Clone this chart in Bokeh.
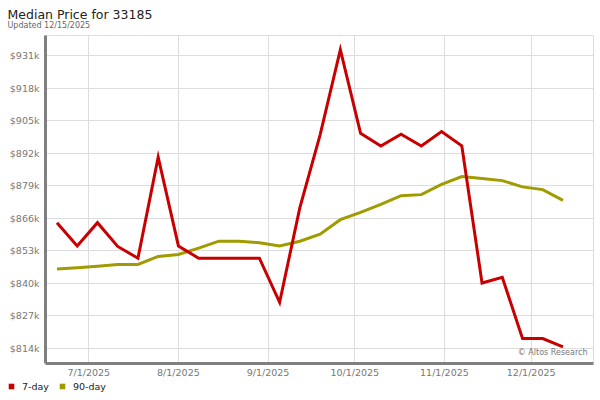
import pandas as pd
from bokeh.plotting import figure
from bokeh.models import (Range1d, FixedTicker, PrintfTickFormatter, Label, Title,
                          Legend, LegendItem, ColumnDataSource)
from bokeh.embed import file_html
from bokeh.resources import INLINE

# ---------------- data ----------------
title_text = "Median Price for 33185"
subtitle_text = "Updated 12/15/2025"
credit_text = "\u00a9 Altos Research"

dates = ["2025-06-20", "2025-06-27", "2025-07-04", "2025-07-11", "2025-07-18",
         "2025-07-25", "2025-08-01", "2025-08-08", "2025-08-15", "2025-08-22",
         "2025-08-29", "2025-09-05", "2025-09-12", "2025-09-19", "2025-09-26",
         "2025-10-03", "2025-10-10", "2025-10-17", "2025-10-24", "2025-10-31",
         "2025-11-07", "2025-11-14", "2025-11-21", "2025-11-28", "2025-12-05",
         "2025-12-12"]

# median price, thousands of dollars
seven_day = [864.2, 854.9, 864.2, 854.7, 850.0, 890.4, 854.9, 850.0, 850.0, 850.0,
             850.0, 832.4, 870.2, 899.3, 933.3, 899.9, 894.8, 899.5, 894.8, 900.6,
             894.9, 840.1, 842.4, 817.9, 817.9, 814.6]
ninety_day = [845.7, 846.2, 846.8, 847.5, 847.5, 850.7, 851.5, 854.0, 856.8, 856.8,
              856.2, 854.9, 856.8, 859.6, 865.4, 868.3, 871.5, 875.0, 875.4, 879.5,
              882.6, 881.8, 881.0, 878.5, 877.4, 873.1]

series_names = ["7-day", "90-day"]
series_colors = ["#c80000", "#a09b00"]

x_tick_dates = ["2025-07-01", "2025-08-01", "2025-09-01", "2025-10-01",
                "2025-11-01", "2025-12-01"]
x_tick_labels = ["7/1/2025", "8/1/2025", "9/1/2025", "10/1/2025",
                 "11/1/2025", "12/1/2025"]
y_ticks = [814, 827, 840, 853, 866, 879, 892, 905, 918, 931]

# ---------------- build ----------------
base = pd.Timestamp("2025-06-01")


def day_num(s):
    return int((pd.Timestamp(s) - base).days)


x_vals = [day_num(d) for d in dates]
x_ticks = [day_num(d) for d in x_tick_dates]

src = ColumnDataSource(data=dict(x=x_vals, seven=seven_day, ninety=ninety_day))

FONT = "DejaVu Sans"
GRAY_AXIS = "#808080"
LABEL_COLOR = "#777777"

p = figure(width=600, height=380, output_backend="svg", toolbar_location=None,
           x_range=Range1d(15.03, 204.55), y_range=Range1d(807.93, 938.98),
           min_border_left=45, min_border_right=7, min_border_top=35,
           min_border_bottom=15, title=None)
p.background_fill_color = "white"
p.border_fill_color = "white"
p.outline_line_color = "#dddddd"
p.outline_line_width = 1

p.xaxis.ticker = FixedTicker(ticks=x_ticks)
p.xaxis.major_label_overrides = {t: l for t, l in zip(x_ticks, x_tick_labels)}
p.yaxis.ticker = FixedTicker(ticks=y_ticks)
p.yaxis.formatter = PrintfTickFormatter(format="$%dk")

for ax in (p.xaxis, p.yaxis):
    ax.axis_line_color = GRAY_AXIS
    ax.axis_line_width = 3
    ax.major_tick_line_color = None
    ax.minor_tick_line_color = None
    ax.major_tick_out = 0
    ax.major_tick_in = 0
    ax.major_label_text_font = FONT
    ax.major_label_text_font_size = "9.5px"
    ax.major_label_text_color = LABEL_COLOR
p.xaxis.major_label_standoff = 3
p.yaxis.major_label_standoff = 6

p.grid.grid_line_color = "#dddddd"
p.grid.grid_line_width = 1

p.line(x="x", y="ninety", source=src, line_color=series_colors[1], line_width=3,
       line_join="miter")
p.line(x="x", y="seven", source=src, line_color=series_colors[0], line_width=3,
       line_join="miter")

# titles (subtitle first: it sits nearest the plot)
p.add_layout(Title(text=subtitle_text, align="left", offset=-38, standoff=10.65,
                   vertical_align="bottom", text_font=FONT, text_font_size="8px",
                   text_font_style="normal", text_color="#666666"), "above")
p.add_layout(Title(text=title_text, align="left", offset=-38, standoff=-16.4,
                   vertical_align="bottom", text_font=FONT, text_font_size="12.5px",
                   text_font_style="normal", text_color="#222222"), "above")

p.add_layout(Label(x=542, y=11, x_units="screen", y_units="screen", text=credit_text,
                   text_font=FONT, text_font_size="8px", text_color="#777777",
                   text_baseline="middle", text_align="right"))

# ---------------- legend strip (separate root, no frame alignment) ----------------
leg = figure(width=600, height=20, output_backend="svg", toolbar_location=None,
             x_range=Range1d(0, 1), y_range=Range1d(0, 1), x_axis_location=None,
             y_axis_location=None, min_border=0, min_border_left=0,
             min_border_right=0, min_border_top=0, min_border_bottom=0, title=None)
leg.outline_line_color = None
leg.grid.visible = False
leg.background_fill_color = "white"
leg.border_fill_color = "white"
# key swatches: square markers of zero size on the series data (only the legend shows them)
r7 = leg.scatter(x=x_vals, y=seven_day, marker="square", size=0,
                 fill_color=series_colors[0], line_color=None)
r90 = leg.scatter(x=x_vals, y=ninety_day, marker="square", size=0,
                  fill_color=series_colors[1], line_color=None)
legend = Legend(items=[LegendItem(label=series_names[0], renderers=[r7]),
                       LegendItem(label=series_names[1], renderers=[r90])],
                location=(4, 7), orientation="horizontal", padding=0, margin=0,
                spacing=6, glyph_width=14, glyph_height=14, label_standoff=4,
                label_height=14, label_text_font=FONT, label_text_font_size="9.5px",
                label_text_color="#222222", border_line_color=None,
                background_fill_alpha=0)
leg.add_layout(legend, "center")

open("out.html", "w").write(file_html([p, leg], INLINE))
